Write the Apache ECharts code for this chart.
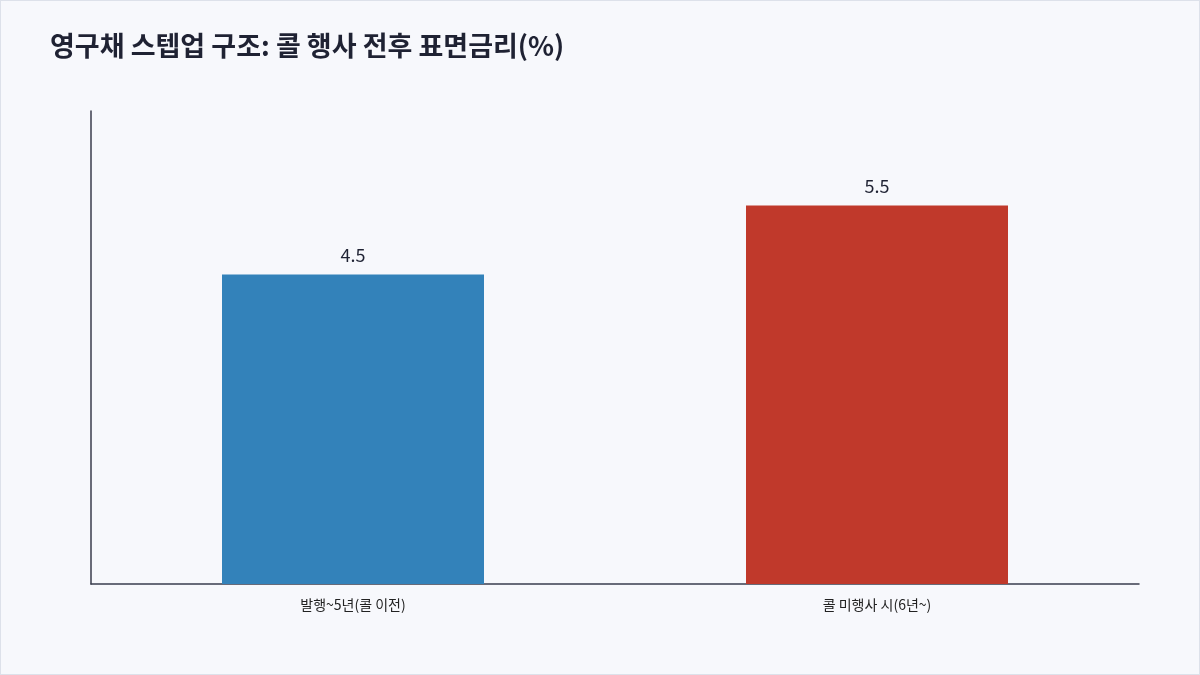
<!DOCTYPE html>
<html><head><meta charset="utf-8">
<script src="https://cdn.jsdelivr.net/npm/echarts@6/dist/echarts.min.js"></script>
<style>html,body{margin:0;padding:0;background:#f7f8fc}#c{width:1200px;height:675px;box-sizing:border-box;border:1px solid #dde1ea}</style>
</head><body><div id="c"></div>
<script>
const categories = ['발행~5년(콜 이전)', '콜 미행사 시(6년~)'];
const values = [4.5, 5.5];
const colors = ['#3382ba', '#c0392b'];
const chart = echarts.init(document.getElementById('c'));
chart.setOption({
  backgroundColor: '#f7f8fc',
  textStyle: { fontFamily: 'Noto Sans CJK KR' },
  title: { text: '영구채 스텝업 구조: 콜 행사 전후 표면금리(%)', left: 44, top: 26,
    textStyle: { fontSize: 27, fontWeight: 'bold', color: '#1f2233', fontFamily: 'Noto Sans CJK KR' } },
  grid: { left: 90, right: 60, top: 110, bottom: 90 },
  xAxis: { type: 'category', data: categories,
    axisLine: { lineStyle: { color: '#3a3d4d', width: 1.5 } }, axisTick: { show: false },
    axisLabel: { color: '#222', fontSize: 14, margin: 14 } },
  yAxis: { type: 'value', min: 0, max: 6.875, show: true, splitLine: { show: false },
    axisLabel: { show: false }, axisTick: { show: false },
    axisLine: { show: true, lineStyle: { color: '#3a3d4d', width: 1.5 } } },
  series: [{ type: 'bar', barWidth: '50%',
    data: values.map((v, i) => ({ value: v, itemStyle: { color: colors[i] } })),
    label: { show: true, position: 'top', distance: 10, fontSize: 18, color: '#1f2233' } }]
});
</script></body></html>
